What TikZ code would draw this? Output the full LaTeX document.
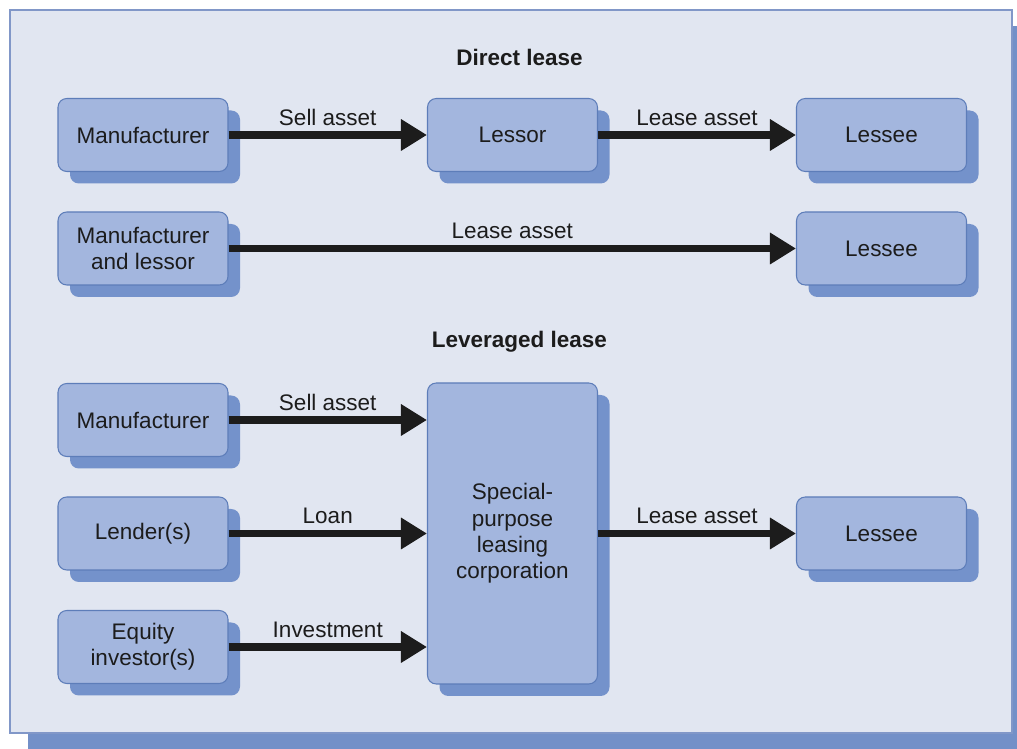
\documentclass[tikz,border=0pt]{standalone}
\usepackage{fontspec}
\setmainfont{Liberation Sans}
\usepackage{tikz}
\usetikzlibrary{arrows.meta,positioning,shadows}
\definecolor{panelfill}{HTML}{E1E6F1}
\definecolor{paneledge}{HTML}{8197C8}
\definecolor{panelshade}{HTML}{7390C8}
\definecolor{boxfill}{HTML}{A3B6DE}
\definecolor{boxedge}{HTML}{5D7DB9}
\definecolor{boxshade}{HTML}{7492CB}
\definecolor{inkdark}{HTML}{1C1C1C}

\begin{document}
\begin{tikzpicture}[
    x=1cm,y=1cm,
    ent/.style  = {rectangle,rounded corners=5pt,draw=boxedge,line width=0.6pt,fill=boxfill,
                   align=center,font=\fontsize{12.8}{15}\selectfont,text=inkdark,
                   minimum width=3.4cm,minimum height=1.46cm,inner sep=1pt,
                   general shadow={fill=boxshade,draw=none,shadow xshift=0.24cm,shadow yshift=-0.24cm}},
    fl/.style   = {-{Triangle[length=0.52cm,width=0.6cm]},inkdark,line width=4pt},
    lbl/.style  = {font=\fontsize{12.8}{15}\selectfont,text=inkdark,above,inner sep=3.5pt},
    ttl/.style  = {font=\fontsize{12.8}{15}\selectfont\bfseries,text=inkdark},
  ]

  \useasboundingbox (0,0) rectangle (20.34,14.98);

  % panel with its shadow
  \fill[panelshade] (0.56,0) rectangle (20.6,14.46);
  \filldraw[fill=panelfill,draw=paneledge,line width=0.8pt] (0.2,0.32) rectangle (20.24,14.78);

  \node[ttl] (dtitle) at (10.39,13.84) {Direct lease};
  \node[ttl] (ltitle) at (10.39,8.14) {Leveraged lease};

  % direct lease
  \node[ent] (mfrA)      at (2.86,12.28) {Manufacturer};
  \node[ent] (lessor)    at (10.25,12.28) {Lessor};
  \node[ent] (lesseeA)   at (17.63,12.28) {Lessee};
  \node[ent] (mfrlessor) at (2.86,10.01) {Manufacturer\\and lessor};
  \node[ent] (lesseeB)   at (17.63,10.01) {Lessee};

  % leveraged lease
  \node[ent] (mfrB)    at (2.86,6.58) {Manufacturer};
  \node[ent] (lender)  at (2.86,4.31) {Lender(s)};
  \node[ent] (equity)  at (2.86,2.04) {Equity\\investor(s)};
  \node[ent,minimum height=6.02cm] (splc) at (10.25,4.31) {Special-\\purpose\\leasing\\corporation};
  \node[ent] (lesseeC) at (17.63,4.31) {Lessee};

  \draw[fl] (mfrA) -- node[lbl] {Sell asset} (lessor);
  \draw[fl] (lessor) -- node[lbl] {Lease asset} (lesseeA);
  \draw[fl] (mfrlessor) -- node[lbl] {Lease asset} (lesseeB);
  \foreach \a/\t in {mfrB/Sell asset,lender/Loan,equity/Investment}
    \draw[fl] (\a.east) -- node[lbl] {\t} (\a.east -| splc.west);
  \draw[fl] (splc) -- node[lbl] {Lease asset} (lesseeC);

\end{tikzpicture}
\end{document}
